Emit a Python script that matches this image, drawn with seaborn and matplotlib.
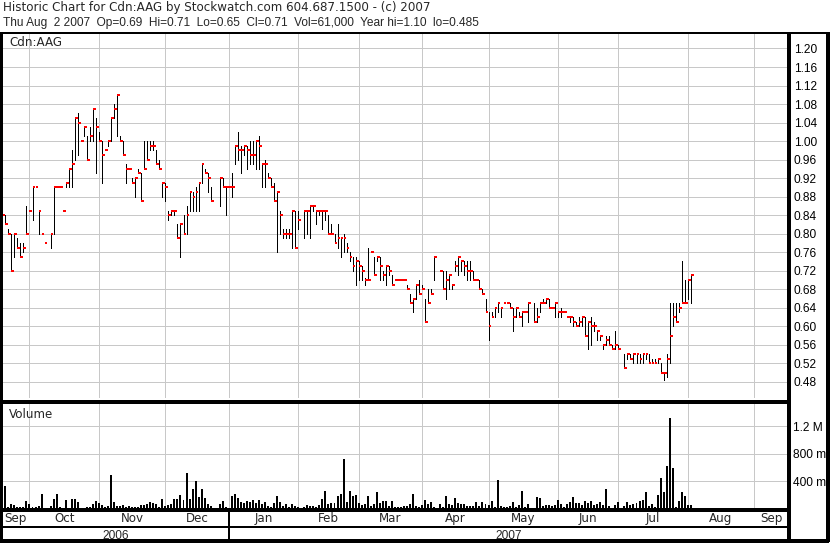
import numpy as np
import pandas as pd
import matplotlib
matplotlib.use("Agg")
import matplotlib.pyplot as plt
import seaborn as sns

# ---------------- data ----------------
start_date = "2006-09-18"
end_date = "2007-08-02"

high = [0.85, 0.84, 0.81, 0.80, 0.80, 0.79, 0.78, 0.78, 0.86, 0.85,
        0.90, 0.90, 0.85, 0.80, 0.78, None, 0.80, 0.90, 0.90, 0.90,
        0.85, 0.91, 0.94, 0.98, 1.05, 1.06, 1.00, 1.03, 1.01, 1.03,
        1.07, 1.05, 1.02, 1.00, 0.98, 1.00, 1.05, 1.08, 1.10, 1.01,
        1.00, 0.95, 0.94, 0.92, 0.92, 0.94, 0.93, 1.00, 1.00, 1.00,
        1.00, 0.98, 0.96, 0.91, 0.91, 0.85, 0.85, 0.85, 0.82, 0.82,
        0.84, 0.86, 0.89, 0.89, 0.90, 0.91, 0.95, 0.94, 0.93, 0.90,
        None, None, 0.92, 0.92, 0.90, 0.90, 0.93, 0.99, 1.02, 0.99,
        0.99, 0.99, 1.00, 1.00, 1.00, 1.01, 0.95, 0.96, 0.93, 0.92,
        0.91, 0.89, 0.85, 0.81, 0.81, 0.81, 0.85, 0.85, 0.85, None,
        0.85, 0.85, 0.86, 0.86, 0.85, 0.85, 0.85, 0.85, 0.84, 0.82,
        0.80, 0.82, 0.79, 0.80, 0.78, 0.76, 0.75, 0.75, 0.74, 0.73,
        0.705, 0.77, 0.76, 0.75, 0.75, 0.75, 0.72, 0.73, 0.73, 0.71,
        0.70, 0.70, 0.70, 0.70, 0.69, 0.67, 0.66, 0.69, 0.70, 0.69,
        0.66, 0.68, 0.68, 0.75, None, 0.72, 0.72, 0.72, 0.71, 0.69,
        0.74, 0.75, 0.74, 0.74, 0.74, 0.74, 0.72, 0.70, 0.70, 0.68,
        0.66, 0.63, 0.63, 0.64, 0.65, 0.64, 0.65, 0.65, 0.65, 0.64,
        0.64, 0.63, 0.63, 0.63, 0.65, None, 0.65, 0.64, 0.65, 0.66,
        0.66, 0.66, 0.64, 0.65, 0.63, 0.64, 0.63, 0.62, 0.62, 0.62,
        0.61, 0.62, 0.62, 0.62, 0.61, 0.62, 0.61, 0.59, 0.58, 0.56,
        0.58, 0.58, 0.56, 0.59, 0.56, None, 0.54, 0.54, 0.54, 0.54,
        0.54, 0.54, 0.54, 0.54, 0.54, 0.53, 0.53, 0.53, 0.52, 0.50,
        0.54, 0.65, 0.65, 0.65, 0.65, 0.74, 0.70, 0.70, 0.71]

low = [0.84, 0.82, 0.80, 0.72, 0.75, 0.77, 0.75, 0.76, 0.80, 0.85,
       0.83, 0.90, 0.80, 0.80, 0.78, None, 0.77, 0.80, 0.90, 0.90,
       0.85, 0.90, 0.90, 0.90, 0.96, 0.97, 1.00, 1.01, 0.96, 1.00,
       1.00, 0.93, 1.00, 0.91, 0.98, 0.99, 1.00, 1.05, 1.01, 1.00,
       0.97, 0.91, 0.94, 0.91, 0.88, 0.93, 0.87, 0.94, 0.96, 0.98,
       0.98, 0.95, 0.94, 0.88, 0.87, 0.83, 0.84, 0.84, 0.79, 0.75,
       0.80, 0.80, 0.85, 0.85, 0.85, 0.85, 0.91, 0.93, 0.89, 0.87,
       None, None, 0.86, 0.90, 0.84, 0.90, 0.88, 0.95, 0.96, 0.93,
       0.97, 0.94, 0.95, 0.95, 0.94, 0.94, 0.90, 0.90, 0.92, 0.90,
       0.87, 0.76, 0.80, 0.79, 0.79, 0.79, 0.77, 0.77, 0.81, None,
       0.79, 0.80, 0.79, 0.85, 0.82, 0.84, 0.81, 0.83, 0.80, 0.80,
       0.78, 0.77, 0.75, 0.76, 0.76, 0.74, 0.72, 0.69, 0.70, 0.70,
       0.69, 0.70, 0.76, 0.71, 0.74, 0.70, 0.70, 0.69, 0.71, 0.69,
       0.70, 0.70, 0.70, 0.70, 0.68, 0.65, 0.63, 0.66, 0.67, 0.68,
       0.61, 0.65, 0.67, 0.70, None, 0.72, 0.68, 0.66, 0.68, 0.68,
       0.72, 0.71, 0.72, 0.71, 0.70, 0.70, 0.70, 0.70, 0.68, 0.67,
       0.63, 0.57, 0.62, 0.62, 0.63, 0.62, 0.65, 0.65, 0.64, 0.59,
       0.62, 0.62, 0.60, 0.63, 0.61, None, 0.61, 0.61, 0.63, 0.65,
       0.65, 0.64, 0.64, 0.62, 0.62, 0.62, 0.63, 0.62, 0.61, 0.60,
       0.60, 0.60, 0.60, 0.58, 0.55, 0.56, 0.59, 0.57, 0.57, 0.55,
       0.56, 0.56, 0.55, 0.55, 0.55, None, 0.51, 0.53, 0.53, 0.52,
       0.52, 0.52, 0.52, 0.53, 0.52, 0.52, 0.52, 0.52, 0.50, 0.485,
       0.49, 0.52, 0.60, 0.61, 0.63, 0.65, 0.65, 0.66, 0.65]

close = [0.84, 0.82, 0.80, 0.72, 0.80, 0.77, 0.75, 0.77, 0.80, 0.85,
         0.90, 0.90, 0.85, 0.80, 0.78, None, 0.80, 0.90, 0.90, 0.90,
         0.85, 0.91, 0.94, 0.95, 1.05, 1.04, 1.00, 1.03, 0.96, 1.01,
         1.07, 1.03, 1.00, 0.97, 0.98, 1.00, 1.05, 1.07, 1.10, 1.00,
         0.97, 0.94, 0.94, 0.91, 0.92, 0.93, 0.87, 0.94, 0.96, 0.99,
         0.99, 0.95, 0.94, 0.91, 0.90, 0.84, 0.85, 0.85, 0.79, 0.82,
         0.80, 0.84, 0.89, 0.88, 0.89, 0.91, 0.95, 0.93, 0.92, 0.87,
         None, None, 0.92, 0.90, 0.90, 0.90, 0.90, 0.99, 0.98, 0.98,
         0.99, 0.98, 0.97, 0.97, 1.00, 0.99, 0.95, 0.95, 0.92, 0.90,
         0.87, 0.89, 0.84, 0.80, 0.80, 0.80, 0.85, 0.77, 0.83, None,
         0.85, 0.85, 0.86, 0.86, 0.85, 0.85, 0.85, 0.85, 0.80, 0.80,
         0.78, 0.79, 0.79, 0.79, 0.77, 0.75, 0.73, 0.74, 0.73, 0.72,
         0.70, 0.70, 0.76, 0.71, 0.75, 0.73, 0.71, 0.73, 0.72, 0.69,
         0.70, 0.70, 0.70, 0.70, 0.68, 0.65, 0.66, 0.69, 0.67, 0.68,
         0.61, 0.65, 0.67, 0.75, None, 0.72, 0.68, 0.70, 0.71, 0.69,
         0.73, 0.75, 0.74, 0.73, 0.72, 0.72, 0.70, 0.70, 0.68, 0.67,
         0.63, 0.60, 0.62, 0.64, 0.65, 0.64, 0.65, 0.65, 0.64, 0.62,
         0.64, 0.62, 0.63, 0.63, 0.65, None, 0.61, 0.62, 0.65, 0.65,
         0.66, 0.64, 0.64, 0.65, 0.63, 0.63, 0.63, 0.62, 0.62, 0.61,
         0.60, 0.61, 0.62, 0.58, 0.61, 0.60, 0.60, 0.59, 0.58, 0.56,
         0.57, 0.56, 0.55, 0.56, 0.55, None, 0.51, 0.54, 0.53, 0.54,
         0.54, 0.53, 0.54, 0.54, 0.52, 0.52, 0.52, 0.53, 0.50, 0.50,
         0.53, 0.58, 0.62, 0.61, 0.64, 0.65, 0.65, 0.70, 0.71]

volume_k = [40, 330, 35, 75, 60, 25, 25, 30, 120, 75,
            25, 25, 40, 225, 20, 0, 45, 145, 225, 25,
            20, 135, 20, 140, 150, 95, 20, 20, 25, 35,
            70, 120, 90, 60, 30, 40, 495, 100, 45, 45,
            60, 30, 45, 25, 25, 35, 55, 55, 75, 100,
            80, 70, 25, 150, 40, 60, 70, 150, 145, 200,
            135, 525, 150, 295, 400, 175, 295, 160, 75, 40,
            0, 0, 75, 110, 30, 20, 195, 215, 160, 100,
            90, 110, 100, 130, 85, 130, 70, 100, 40, 25,
            85, 195, 95, 45, 70, 30, 70, 45, 25, 0,
            25, 55, 50, 45, 30, 60, 150, 255, 75, 85,
            80, 195, 225, 720, 95, 255, 185, 200, 80, 55,
            70, 195, 40, 75, 240, 85, 110, 110, 50, 120,
            35, 30, 25, 40, 45, 70, 225, 40, 25, 60,
            130, 75, 95, 25, 0, 75, 30, 195, 75, 55,
            160, 85, 75, 75, 45, 40, 40, 95, 40, 95,
            75, 60, 120, 25, 420, 40, 30, 30, 50, 100,
            30, 55, 255, 30, 75, 0, 20, 170, 160, 45,
            65, 55, 45, 60, 130, 70, 30, 70, 105, 180,
            85, 80, 60, 120, 80, 110, 60, 70, 100, 60,
            295, 45, 20, 60, 100, 0, 45, 100, 60, 70,
            85, 110, 130, 250, 40, 70, 30, 210, 450, 240,
            620, 1320, 600, 25, 110, 240, 185, 60, 61]

price_ticks = [0.48, 0.52, 0.56, 0.60, 0.64, 0.68, 0.72, 0.76, 0.80, 0.84,
               0.88, 0.92, 0.96, 1.00, 1.04, 1.08, 1.12, 1.16, 1.20]
volume_ticks = [400000, 800000, 1200000]
volume_tick_labels = ["400 m", "800 m", "1.2 M"]
month_labels = ["Sep", "Oct", "Nov", "Dec", "Jan", "Feb", "Mar",
                "Apr", "May", "Jun", "Jul", "Aug", "Sep"]
year_labels = ["2006", "2007"]
header_1 = "Historic Chart for Cdn:AAG by Stockwatch.com 604.687.1500 - (c) 2007"
header_2 = ("Thu Aug  2 2007  Op=0.69  Hi=0.71  Lo=0.65  Cl=0.71  "
            "Vol=61,000  Year hi=1.10  lo=0.485")
symbol_label = "Cdn:AAG"
volume_label = "Volume"

# ---------------- style ----------------
sns.set_style("white")
plt.rcParams["font.family"] = ["Liberation Sans", "DejaVu Sans"]
plt.rcParams["lines.antialiased"] = False
plt.rcParams["patch.antialiased"] = False
FS = 8.6
TEXT_FONT = ["DejaVu Sans"]
NUM_FONT = ["Liberation Sans", "DejaVu Sans"]
GRID = "#c8c8c8"

W, H = 830, 543
fig = plt.figure(figsize=(W / 100, H / 100), dpi=100)
fig.patch.set_facecolor("white")


def rect(x0, y0, x1, y1):
    return [x0 / W, 1 - y1 / H, (x1 - x0) / W, (y1 - y0) / H]


ax_p = fig.add_axes(rect(2, 34, 788, 398))
ax_v = fig.add_axes(rect(2, 402, 788, 509))
ax_d = fig.add_axes(rect(2, 510, 788, 526))
ax_y = fig.add_axes(rect(2, 527, 788, 541))
ax_f = fig.add_axes([0, 0, 1, 1], zorder=10)

# x scale: one slot per business day
all_bdays = pd.bdate_range(start_date, "2007-12-31")
n = len(high)
xs = np.arange(n)
hi = np.array([np.nan if v is None else v for v in high], dtype=float)
lo = np.array([np.nan if v is None else v for v in low], dtype=float)
cl = np.array([np.nan if v is None else v for v in close], dtype=float)
vol = np.array(volume_k, dtype=float) * 1000.0

x_left = -0.1
x_right = x_left + 786 / 3.02
month_starts = pd.date_range("2006-10-01", "2007-09-01", freq="MS")
grid_pos = [int(all_bdays.searchsorted(d, side="right") - 1) for d in month_starts]
year_pos = grid_pos[3]

# ---------------- price panel ----------------
ok = ~np.isnan(hi)
ax_p.vlines(xs[ok], lo[ok], hi[ok], colors="black", linewidth=0.62,
            antialiased=False, zorder=3)
ax_p.hlines(cl[ok], xs[ok], xs[ok] + 0.95, colors="#ff0000",
            linewidth=1.44, antialiased=False, zorder=4)
ax_p.set_xlim(x_left, x_right)
ax_p.set_ylim(0.4451, 1.2313)
ax_p.set_yticks(price_ticks)
ax_p.set_yticklabels([f"{t:.2f}" for t in price_ticks], family=NUM_FONT)
ax_p.set_xticks(grid_pos)
ax_p.tick_params(axis="x", length=0, labelbottom=False)
ax_p.yaxis.tick_right()
ax_p.tick_params(axis="y", length=0, pad=4.3, labelsize=FS, labelcolor="black")
ax_p.grid(True, color=GRID, linewidth=0.62)
ax_p.set_axisbelow(True)
for s in ax_p.spines.values():
    s.set_visible(False)

# ---------------- volume panel ----------------
vol_df = pd.DataFrame({"slot": xs, "volume": vol})
sns.barplot(data=vol_df, x="slot", y="volume", native_scale=True, width=0.66,
            color="black", saturation=1, errorbar=None, linewidth=0, ax=ax_v,
            zorder=3)
ax_v.set_xlim(x_left, x_right)
ax_v.set_ylim(0, 1.556e6)
ax_v.set_xlabel("")
ax_v.set_ylabel("")
ax_v.set_yticks(volume_ticks)
ax_v.set_yticklabels(volume_tick_labels, family=NUM_FONT)
ax_v.set_xticks(grid_pos)
ax_v.tick_params(axis="x", length=0, labelbottom=False)
ax_v.yaxis.tick_right()
ax_v.tick_params(axis="y", length=0, pad=3.3, labelsize=FS, labelcolor="black")
ax_v.grid(True, color=GRID, linewidth=0.62)
ax_v.set_axisbelow(True)
for s in ax_v.spines.values():
    s.set_visible(False)

# ---------------- date rows ----------------
bounds = [x_left] + grid_pos + [x_right]
for ax in (ax_d, ax_y):
    ax.set_xlim(x_left, x_right)
    ax.set_ylim(0, 1)
    ax.axis("off")
    ax.axvline(year_pos, color="black", linewidth=1.3)
for i, lab in enumerate(month_labels):
    c = (bounds[i] + bounds[i + 1]) / 2
    ax_d.text(c, 0.22, lab, ha="center", va="baseline", fontsize=FS,
              family=TEXT_FONT)
ybounds = [x_left, year_pos, x_right]
for i, lab in enumerate(year_labels):
    c = (ybounds[i] + ybounds[i + 1]) / 2
    ax_y.text(c, 0.16, lab, ha="center", va="baseline", fontsize=FS,
              family=NUM_FONT)

# ---------------- frame and header ----------------
ax_f.set_xlim(0, W)
ax_f.set_ylim(H, 0)
ax_f.axis("off")
ax_f.patch.set_visible(False)
k = dict(color="black", antialiased=False, solid_capstyle="butt")
ax_f.plot([0, W], [32.5, 32.5], linewidth=1.3, **k)
ax_f.plot([1, 1], [32, 542], linewidth=1.6, **k)
ax_f.plot([789, 789], [32, 542], linewidth=1.6, **k)
ax_f.plot([828, 828], [32, 542], linewidth=1.6, **k)
ax_f.plot([0, 789], [399.5, 399.5], linewidth=0.7, **k)
ax_f.plot([0, 789], [401.5, 401.5], linewidth=0.9, **k)
ax_f.plot([0, 789], [509.5, 509.5], linewidth=1.6, **k)
ax_f.plot([0, 789], [526.5, 526.5], linewidth=1.3, **k)
ax_f.plot([0, 829], [541.0, 541.0], linewidth=1.6, **k)

ax_f.text(3, 10.7, header_1, fontsize=FS, va="baseline", ha="left",
          family=TEXT_FONT)
ax_f.text(3, 25.7, header_2, fontsize=FS, va="baseline", ha="left",
          family=NUM_FONT)
ax_f.text(9, 46.3, symbol_label, fontsize=FS, va="baseline", ha="left",
          family=TEXT_FONT)
ax_f.text(8.5, 417.5, volume_label, fontsize=FS, va="baseline", ha="left",
          family=TEXT_FONT)

fig.savefig("out.png", dpi=100, facecolor="white")
